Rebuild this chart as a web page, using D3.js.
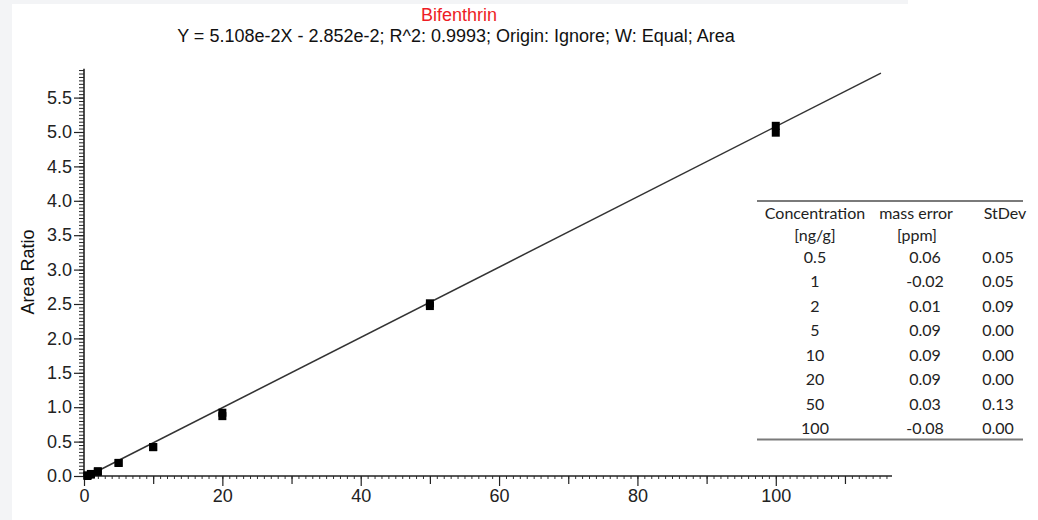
<!DOCTYPE html>
<html>
<head>
<meta charset="utf-8">
<script src="https://cdn.jsdelivr.net/npm/d3@7"></script>
<style>
  html, body { margin: 0; padding: 0; background: #ffffff; }
  svg { display: block; }
</style>
</head>
<body>
<svg id="chart" width="1038" height="520"></svg>
<script>
// Calibration standards (ng/g) and measured area ratios for two replicate injections
const concentrations = [0.5, 1, 2, 5, 10, 20, 50, 100];
const replicateA = [0.01, 0.03, 0.07, 0.19, 0.42, 0.92, 2.51, 5.09];
const replicateB = [0.00, 0.02, 0.06, 0.19, 0.42, 0.87, 2.47, 4.99];

// Linear regression result
const slope = 5.108e-2;
const intercept = -2.852e-2;
const rSquared = "0.9993";

// Axis tick labels
const yTickValues = [0.0, 0.5, 1.0, 1.5, 2.0, 2.5, 3.0, 3.5, 4.0, 4.5, 5.0, 5.5];
const xTickValues = [0, 20, 40, 60, 80, 100];

// Accuracy table
const tableConcentration = ["0.5", "1", "2", "5", "10", "20", "50", "100"];
const tableMassError = ["0.06", "-0.02", "0.01", "0.09", "0.09", "0.09", "0.03", "-0.08"];
const tableStDev = ["0.05", "0.05", "0.09", "0.00", "0.00", "0.00", "0.13", "0.00"];

const svg = d3.select("#chart");
const axisFont = "'Liberation Sans', Arial, sans-serif";
const tableFont = "Lato, 'Open Sans', sans-serif";

// Light frame strips along the top and left edges
svg.append("rect").attr("x", 0).attr("y", 0).attr("width", 1038).attr("height", 520).attr("fill", "#ffffff");
svg.append("rect").attr("x", 0).attr("y", 0).attr("width", 908).attr("height", 4).attr("fill", "#f3f4f6");
svg.append("rect").attr("x", 0).attr("y", 0).attr("width", 12).attr("height", 520).attr("fill", "#f3f4f6");

const x = d3.scaleLinear().domain([0, 116.8]).range([84, 892]);
const y = d3.scaleLinear().domain([0, 5.92]).range([476, 68.7]);

// Titles
svg.append("text")
  .attr("x", 459).attr("y", 21)
  .attr("text-anchor", "middle")
  .attr("font-family", axisFont).attr("font-size", 18)
  .attr("fill", "#ee1c25")
  .text("Bifenthrin");

svg.append("text")
  .attr("x", 456).attr("y", 42)
  .attr("text-anchor", "middle")
  .attr("font-family", axisFont).attr("font-size", 18)
  .attr("fill", "#111")
  .text(`Y = 5.108e-2X - 2.852e-2; R^2: ${rSquared}; Origin: Ignore; W: Equal; Area`);

// Y axis: minor ticks every 0.05, labelled major ticks every 0.5
const yMinor = d3.range(0, 5.9001, 0.05).map(v => +v.toFixed(2));
svg.append("g")
  .attr("transform", `translate(${x(0)},0)`)
  .call(d3.axisLeft(y).tickValues(yMinor).tickSize(5).tickFormat(""))
  .call(g => g.select(".domain").remove())
  .call(g => g.selectAll("line").attr("stroke", "#222").attr("stroke-width", 1));

const yAxis = svg.append("g")
  .attr("transform", `translate(${x(0)},0)`)
  .call(d3.axisLeft(y).tickValues(yTickValues).tickSize(10).tickPadding(2).tickFormat(d3.format(".1f")));
yAxis.select(".domain").remove();
yAxis.selectAll("line").attr("stroke", "#222").attr("stroke-width", 1.2);
yAxis.selectAll("text").attr("font-family", axisFont).attr("font-size", 18).attr("fill", "#222");

svg.append("line")
  .attr("x1", x(0)).attr("x2", x(0))
  .attr("y1", y(0)).attr("y2", y(5.92))
  .attr("stroke", "#222").attr("stroke-width", 1.6);

// X axis: minor ticks every 1, medium every 10, labelled major every 20
svg.append("g")
  .attr("transform", `translate(0,${y(0)})`)
  .call(d3.axisBottom(x).tickValues(d3.range(0, 117, 1)).tickSize(3).tickFormat(""))
  .call(g => g.select(".domain").remove())
  .call(g => g.selectAll("line").attr("stroke", "#333").attr("stroke-width", 1));

svg.append("g")
  .attr("transform", `translate(0,${y(0)})`)
  .call(d3.axisBottom(x).tickValues([10, 30, 50, 70, 90, 110]).tickSize(8).tickFormat(""))
  .call(g => g.select(".domain").remove())
  .call(g => g.selectAll("line").attr("stroke", "#222").attr("stroke-width", 1.2));

const xAxis = svg.append("g")
  .attr("transform", `translate(0,${y(0)})`)
  .call(d3.axisBottom(x).tickValues(xTickValues).tickSize(10).tickPadding(3).tickFormat(d3.format("d")));
xAxis.select(".domain").remove();
xAxis.selectAll("line").attr("stroke", "#222").attr("stroke-width", 1.2);
xAxis.selectAll("text").attr("font-family", axisFont).attr("font-size", 18).attr("fill", "#222");

svg.append("line")
  .attr("x1", x(0)).attr("x2", x(116.8))
  .attr("y1", y(0)).attr("y2", y(0))
  .attr("stroke", "#222").attr("stroke-width", 1.6);

// Y axis title
svg.append("text")
  .attr("transform", `translate(34,272) rotate(-90)`)
  .attr("text-anchor", "middle")
  .attr("font-family", axisFont).attr("font-size", 18)
  .attr("fill", "#111")
  .text("Area Ratio");

// Regression line
const fitX = [-intercept / slope, 115.2];
svg.append("line")
  .attr("x1", x(fitX[0])).attr("y1", y(slope * fitX[0] + intercept))
  .attr("x2", x(fitX[1])).attr("y2", y(slope * fitX[1] + intercept))
  .attr("stroke", "#333").attr("stroke-width", 1.5);

// Replicate points as filled squares
const points = concentrations.flatMap((c, i) => [
  { c, v: replicateA[i] },
  { c, v: replicateB[i] }
]);
const sq = 8;
svg.append("g").selectAll("rect")
  .data(points)
  .join("rect")
  .attr("x", d => x(d.c) - sq / 2)
  .attr("y", d => y(d.v) - sq / 2)
  .attr("width", sq).attr("height", sq)
  .attr("fill", "#000");

// Accuracy table
const table = svg.append("g").attr("font-family", tableFont).attr("font-size", 16).attr("fill", "#222");
const colConc = 815, colErr = 925, colSd = 998;

table.append("line").attr("x1", 757).attr("x2", 1023).attr("y1", 201).attr("y2", 201)
  .attr("stroke", "#7a7a7a").attr("stroke-width", 2);
table.append("line").attr("x1", 757).attr("x2", 1023).attr("y1", 439.5).attr("y2", 439.5)
  .attr("stroke", "#7a7a7a").attr("stroke-width", 2);

const headRow = [
  { t: "Concentration", x: 815, y: 219 },
  { t: "[ng/g]", x: 815, y: 241 },
  { t: "mass error", x: 916, y: 219 },
  { t: "[ppm]", x: 917, y: 241 },
  { t: "StDev", x: 1005, y: 219 }
];
table.selectAll("text.head")
  .data(headRow)
  .join("text")
  .attr("class", "head")
  .attr("x", d => d.x).attr("y", d => d.y)
  .attr("text-anchor", "middle")
  .text(d => d.t);

const rowY = d3.scalePoint().domain(d3.range(tableConcentration.length)).range([263, 434]);
const rows = table.selectAll("g.row")
  .data(tableConcentration.map((c, i) => ({ c, e: tableMassError[i], s: tableStDev[i], i })))
  .join("g")
  .attr("class", "row");
rows.append("text").attr("x", colConc).attr("y", d => rowY(d.i)).attr("text-anchor", "middle").text(d => d.c);
rows.append("text").attr("x", colErr).attr("y", d => rowY(d.i)).attr("text-anchor", "middle").text(d => d.e);
rows.append("text").attr("x", colSd).attr("y", d => rowY(d.i)).attr("text-anchor", "middle").text(d => d.s);
</script>
</body>
</html>
